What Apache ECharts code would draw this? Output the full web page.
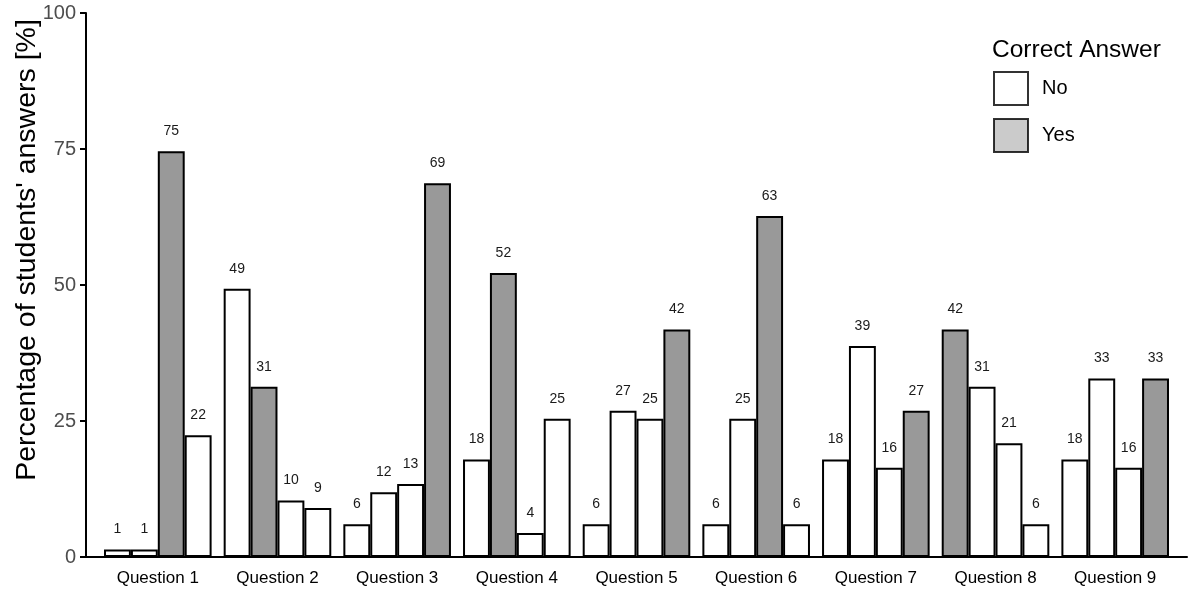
<!DOCTYPE html>
<html>
<head>
<meta charset="utf-8">
<script src="https://cdn.jsdelivr.net/npm/echarts@6/dist/echarts.min.js"></script>
<style>
  html, body { margin: 0; padding: 0; background: #fff; }
  #chart { width: 1200px; height: 598px; }
</style>
</head>
<body>
<div id="chart"></div>
<script>
const questions = ['Question 1', 'Question 2', 'Question 3', 'Question 4', 'Question 5',
  'Question 6', 'Question 7', 'Question 8', 'Question 9'];
// share of students choosing each answer option, in percent
const optionA = [1.4, 49.3, 6.0, 17.9, 6.0, 6.0, 17.9, 41.8, 17.9];
const optionB = [1.4, 31.3, 11.9, 52.2, 26.9, 25.4, 38.8, 31.3, 32.8];
const optionC = [74.6, 10.4, 13.4, 4.4, 25.4, 62.7, 16.4, 20.9, 16.4];
const optionD = [22.4, 9.0, 68.7, 25.4, 41.8, 6.0, 26.9, 6.0, 32.8];
// which option (0..3) is the correct one per question
const correctOption = [2, 1, 3, 1, 3, 2, 3, 0, 3];
const yTicks = [0, 25, 50, 75, 100];

const font = "'Liberation Sans', Arial, sans-serif";
const chart = echarts.init(document.getElementById('chart'));

const options = [optionA, optionB, optionC, optionD];
const barSeries = options.map((vals, k) => ({
  type: 'bar',
  name: 'Option ' + (k + 1),
  barWidth: 26.9,
  barGap: '0%',
  data: vals.map((v, i) => ({
    value: [i + 1, v],
    itemStyle: { color: correctOption[i] === k ? '#999999' : '#ffffff' }
  })),
  itemStyle: { borderColor: '#000', borderWidth: 2 },
  label: {
    show: true,
    position: 'top',
    distance: 13,
    fontSize: 14,
    color: '#1a1a1a',
    fontFamily: font,
    formatter: p => Math.round(p.value[1])
  }
}));

chart.setOption({
  animation: false,
  textStyle: { fontFamily: font },
  title: {
    text: 'Correct Answer',
    left: 987,
    top: 33,
    textStyle: { fontSize: 24.5, fontWeight: 'normal', color: '#000', fontFamily: font }
  },
  legend: {
    data: ['No', 'Yes'],
    orient: 'vertical',
    left: 988,
    top: 66,
    itemWidth: 34,
    itemHeight: 33,
    itemGap: 12,
    icon: 'rect',
    itemStyle: { borderColor: '#000', borderWidth: 2 },
    textStyle: { fontSize: 20, color: '#000', fontFamily: font, padding: [0, 0, 0, 9] }
  },
  grid: { left: 86, right: 13, top: 13, bottom: 41, outerBoundsMode: 'none', containLabel: false },
  xAxis: {
    type: 'value',
    min: 0.4,
    max: 9.6,
    splitLine: { show: false },
    axisLine: { show: true, lineStyle: { color: '#000', width: 2 } },
    axisTick: { show: false },
    axisLabel: {
      customValues: questions.map((q, i) => i + 1),
      formatter: v => questions[Math.round(v) - 1] || '',
      fontSize: 17,
      color: '#000',
      margin: 13
    }
  },
  yAxis: {
    type: 'value',
    min: yTicks[0],
    max: yTicks[yTicks.length - 1],
    interval: 25,
    name: "Percentage of students' answers [%]",
    nameLocation: 'middle',
    nameRotate: 90,
    nameGap: 44,
    nameMoveOverlap: false,
    nameTextStyle: { fontSize: 28.5, color: '#000', padding: [0, 0, 0, 70] },
    splitLine: { show: false },
    axisLine: { show: true, lineStyle: { color: '#000', width: 2 } },
    axisTick: { show: true, length: 6, lineStyle: { color: '#000', width: 2 } },
    axisLabel: { fontSize: 20, color: '#4d4d4d', margin: 10 }
  },
  series: barSeries.concat([
    { type: 'scatter', name: 'No', data: [], itemStyle: { color: '#ffffff' } },
    { type: 'scatter', name: 'Yes', data: [], itemStyle: { color: '#bebebe' } }
  ])
});
</script>
</body>
</html>
